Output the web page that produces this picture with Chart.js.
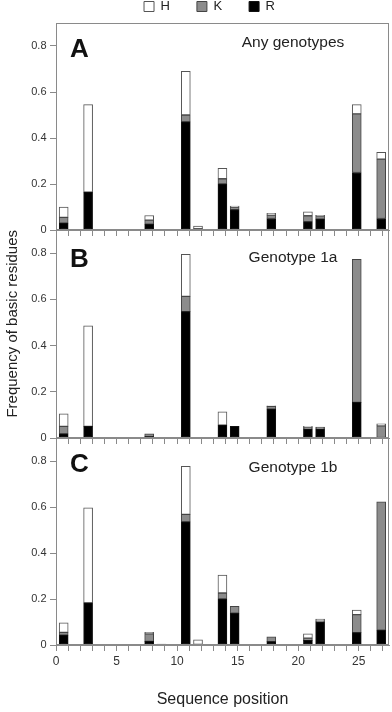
<!DOCTYPE html>
<html>
<head>
<meta charset="utf-8">
<script src="https://cdn.jsdelivr.net/npm/chart.js@4"></script>
<style>
  body { margin: 0; background: #fff; }
  #wrap { position: relative; width: 392px; height: 712px; }
  #wrap canvas { position: absolute; left: 0; top: 0; }
</style>
</head>
<body>
<div id="wrap">
  <canvas id="graficoA" width="392" height="712"></canvas>
  <canvas id="graficoB" width="392" height="712"></canvas>
  <canvas id="graficoC" width="392" height="712"></canvas>
</div>
<script>
// dados: posição na sequência e frequência de R, K, H
const posA = [1, 3, 8, 11, 12, 14, 15, 18, 21, 22, 25, 27];
const rA = [0.03, 0.165, 0.025, 0.47, null, 0.2, 0.088, 0.05, 0.036, 0.047, 0.25, 0.05];
const kA = [0.025, null, 0.018, 0.03, 0.006, 0.023, 0.012, 0.015, 0.026, 0.015, 0.255, 0.258];
const hA = [0.045, 0.38, 0.02, 0.19, 0.011, 0.045, 0.004, 0.008, 0.017, 0.002, 0.04, 0.03];

const posB = [1, 3, 8, 11, 14, 15, 18, 21, 22, 25, 27];
const rB = [0.018, 0.05, 0.006, 0.547, 0.056, 0.05, 0.125, 0.039, 0.039, 0.154, null];
const kB = [0.032, null, 0.012, 0.066, null, null, 0.012, 0.006, 0.008, 0.619, 0.053];
const hB = [0.055, 0.435, null, 0.182, 0.057, null, 0.002, 0.006, null, null, 0.008];

const posC = [1, 3, 7, 8, 9, 11, 12, 14, 15, 18, 21, 22, 25, 26, 27];
const rC = [0.043, 0.183, 0.003, 0.016, null, 0.535, 0.003, 0.2, 0.138, 0.015, 0.02, 0.1, 0.054, null, 0.064];
const kC = [0.012, null, null, 0.033, 0.004, 0.033, null, 0.026, 0.03, 0.02, 0.01, 0.004, 0.078, 0.003, 0.558];
const hC = [0.041, 0.413, null, 0.006, null, 0.209, 0.02, 0.078, null, null, 0.019, 0.009, 0.02, null, null];

const yTicks = [0, 0.2, 0.4, 0.6, 0.8];
const xLabels = [0, 5, 10, 15, 20, 25];

Chart.defaults.font.family = "'Liberation Sans', Arial, sans-serif";
Chart.defaults.color = '#333';

// moldura em volta da área do gráfico + letra e subtítulo do painel
const moldura = {
  id: 'moldura',
  afterDraw(chart, args, opts) {
    const {ctx, chartArea: a} = chart;
    ctx.save();
    ctx.strokeStyle = '#8a8a8a';
    ctx.lineWidth = 1;
    const l = Math.round(a.left) + 0.5, t = Math.round(a.top) + 0.5;
    const r = Math.round(a.right) - 0.5, b = Math.round(a.bottom) - 0.5;
    ctx.strokeRect(l, t, r - l, b - t);
    ctx.fillStyle = '#111';
    ctx.font = "bold 26px 'Liberation Sans', Arial, sans-serif";
    ctx.textBaseline = 'alphabetic';
    ctx.textAlign = 'left';
    ctx.fillText(opts.letra, a.left + 14, a.top + opts.letraY);
    ctx.fillStyle = '#222';
    ctx.font = "15.5px 'Liberation Sans', Arial, sans-serif";
    ctx.textAlign = 'center';
    ctx.fillText(opts.texto, a.left + 237, a.top + opts.textoY);
    ctx.restore();
  }
};

function painel(id, pos, r, k, h, cfg) {
  const base = {borderWidth: 1, borderSkipped: false, barThickness: 9, xAxisID: 'xb'};
  return new Chart(document.getElementById(id), {
    type: 'bar',
    data: {
      labels: pos,
      datasets: [
        Object.assign({label: 'R', data: r, backgroundColor: '#000', borderColor: '#111'}, base),
        Object.assign({label: 'K', data: k, backgroundColor: '#8c8c8c', borderColor: '#444'}, base),
        Object.assign({label: 'H', data: h, backgroundColor: '#fff', borderColor: '#555'}, base)
      ]
    },
    options: {
      responsive: false,
      animation: false,
      layout: {padding: cfg.padding},
      plugins: {
        tooltip: {enabled: false},
        legend: {
          display: cfg.legenda,
          reverse: true,
          labels: {boxWidth: 10, boxHeight: 10, padding: 27, color: '#222', font: {size: 13}}
        },
        moldura: {letra: cfg.letra, texto: cfg.texto, letraY: cfg.letraY, textoY: cfg.textoY}
      },
      scales: {
        // eixo escondido que posiciona as barras
        xb: {
          type: 'linear', display: false, stacked: true, offset: false,
          min: 0.37, max: 27.64,
          grid: {offset: false},
          ticks: {stepSize: 1, includeBounds: false}
        },
        // eixo visível com as marcas de posição
        x: {
          type: 'linear', offset: false,
          min: 0, max: 27.5,
          border: {color: '#8a8a8a'},
          grid: {offset: false, drawOnChartArea: false, tickLength: 6, color: '#8a8a8a'},
          ticks: {
            display: cfg.rotulosX, stepSize: 1, includeBounds: false, autoSkip: false,
            maxRotation: 0, padding: 3, font: {size: 12}, color: '#333',
            callback: v => xLabels.includes(v) ? String(v) : ''
          },
          title: {
            display: cfg.rotulosX, text: 'Sequence position', color: '#222',
            font: {size: 16}, padding: {top: 0, bottom: 3}
          },
          afterFit: s => { s.height = cfg.alturaX; }
        },
        y: {
          stacked: true,
          min: 0, max: 0.9,
          border: {color: '#8a8a8a'},
          grid: {drawOnChartArea: false, tickLength: 6, color: '#8a8a8a'},
          afterBuildTicks: s => { s.ticks = yTicks.map(v => ({value: v})); },
          ticks: {padding: 3.5, font: {size: 11}, color: '#333', callback: v => String(v)},
          title: {
            display: cfg.tituloY, text: 'Frequency of basic residues', align: 'end',
            color: '#222', font: {size: 15}, padding: {top: 4, bottom: 0}
          },
          afterFit: s => { s.width = cfg.larguraY; }
        }
      }
    },
    plugins: [moldura]
  });
}

painel('graficoA', posA, rA, kA, hA, {
  padding: {left: 30, right: 3, top: -27, bottom: 476},
  legenda: true, rotulosX: false, tituloY: false, alturaX: 6, larguraY: 26,
  letra: 'A', texto: 'Any genotypes', letraY: 34, textoY: 24
});
painel('graficoB', posB, rB, kB, hB, {
  padding: {left: 0, right: 3, top: 230, bottom: 268},
  legenda: false, rotulosX: false, tituloY: true, alturaX: 6, larguraY: 56,
  letra: 'B', texto: 'Genotype 1a', letraY: 36.5, textoY: 31.5
});
painel('graficoC', posC, rC, kC, hC, {
  padding: {left: 0, right: 3, top: 438, bottom: 0},
  legenda: false, rotulosX: true, tituloY: false, alturaX: 67, larguraY: 56,
  letra: 'C', texto: 'Genotype 1b', letraY: 34, textoY: 33.5
});
</script>
</body>
</html>
